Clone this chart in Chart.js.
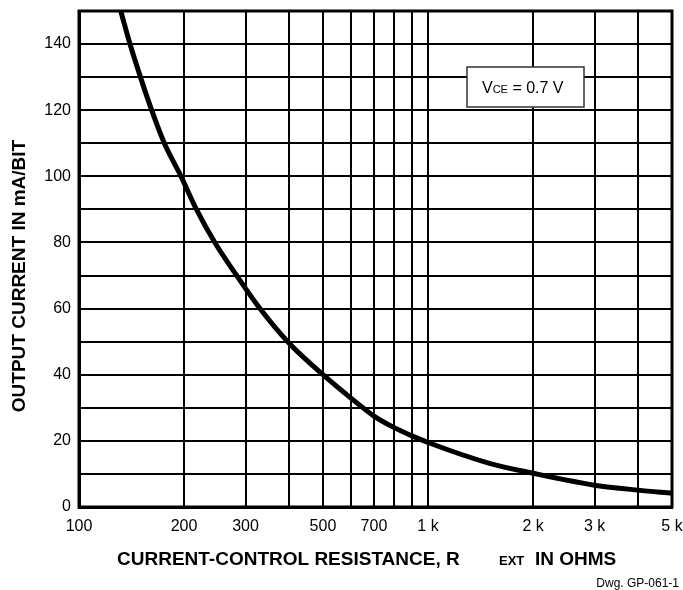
<!DOCTYPE html>
<html>
<head>
<meta charset="utf-8">
<script src="https://cdn.jsdelivr.net/npm/chart.js@4"></script>
<style>
  html, body { margin: 0; padding: 0; background: #fff; }
  canvas { display: block; }
</style>
</head>
<body>
<canvas id="c" width="683" height="590"></canvas>
<script>
// ---- data ----
const resistance = [131.7, 140, 150, 161.5, 175.6, 196, 217, 245, 283, 330, 400, 500, 600, 700, 800, 900, 1000, 1500, 2000, 3000, 4000, 5000];
const current    = [150, 140, 130, 120, 110, 100, 90, 80, 70, 60, 49.5, 40, 33, 27.5, 24, 21.5, 19.5, 13.2, 10.2, 6.6, 5.1, 4.2];
const xGridValues = [100, 200, 300, 400, 500, 600, 700, 800, 900, 1000, 2000, 3000, 4000, 5000];
const xTickLabels = {100: '100', 200: '200', 300: '300', 500: '500', 700: '700', 1000: '1 k', 2000: '2 k', 3000: '3 k', 5000: '5 k'};
const yGridValues = [0, 10, 20, 30, 40, 50, 60, 70, 80, 90, 100, 110, 120, 130, 140, 150];
const yTickLabels = [0, 20, 40, 60, 80, 100, 120, 140];

const FONT = "'Liberation Sans', Arial, Helvetica, sans-serif";

const decor = {
  id: 'decor',
  afterDraw(chart) {
    const ctx = chart.ctx;
    const a = chart.chartArea;
    ctx.save();
    // frame
    ctx.strokeStyle = '#000';
    ctx.lineWidth = 3;
    ctx.strokeRect(a.left, a.top, a.right - a.left, a.bottom - a.top);
    // annotation box
    const bx = 467, by = 67, bw = 117, bh = 40;
    ctx.fillStyle = '#fff';
    ctx.fillRect(bx, by, bw, bh);
    ctx.strokeStyle = '#333';
    ctx.lineWidth = 1.5;
    ctx.strokeRect(bx, by, bw, bh);
    ctx.fillStyle = '#000';
    ctx.textBaseline = 'alphabetic';
    ctx.textAlign = 'left';
    let tx = 482;
    const ty = 93;
    ctx.font = '16px ' + FONT;
    ctx.fillText('V', tx, ty); tx += ctx.measureText('V').width;
    ctx.font = '11px ' + FONT;
    ctx.fillText('CE', tx, ty); tx += ctx.measureText('CE').width;
    ctx.font = '16px ' + FONT;
    ctx.fillText(' = 0.7 V', tx, ty);

    // x title
    const xy = 565;
    ctx.font = 'bold 19px ' + FONT;
    ctx.fillText('CURRENT-CONTROL RESISTANCE, R', 117, xy);
    ctx.font = 'bold 13px ' + FONT;
    ctx.fillText('EXT', 499, xy);
    ctx.font = 'bold 19px ' + FONT;
    ctx.fillText('IN OHMS', 535, xy);

    // drawing number
    ctx.font = '12px ' + FONT;
    ctx.textAlign = 'right';
    ctx.fillText('Dwg. GP-061-1', 679, 587);

    // y title
    ctx.translate(20, 276);
    ctx.rotate(-Math.PI / 2);
    ctx.textAlign = 'center';
    ctx.textBaseline = 'middle';
    ctx.font = 'bold 19px ' + FONT;
    ctx.fillText('OUTPUT CURRENT IN mA/BIT', 0, 0);
    ctx.restore();
  }
};

new Chart(document.getElementById('c'), {
  type: 'line',
  data: {
    datasets: [{
      data: resistance.map((r, i) => ({x: r, y: current[i]})),
      borderColor: '#000',
      borderWidth: 5,
      pointRadius: 0,
      cubicInterpolationMode: 'monotone',
      fill: false
    }]
  },
  options: {
    responsive: false,
    animation: false,
    events: [],
    layout: { padding: { left: 0, right: 11, top: 11, bottom: 0 }, autoPadding: false },
    plugins: { legend: { display: false }, tooltip: { enabled: false }, title: { display: false } },
    scales: {
      x: {
        type: 'logarithmic',
        min: 100, max: 5000,
        afterBuildTicks: s => { s.ticks = xGridValues.map(v => ({ value: v })); },
        afterFit: s => { s.height = 83; s.paddingLeft = 0; s.paddingRight = 0; },
        ticks: {
          autoSkip: false, maxRotation: 0, minRotation: 0,
          color: '#000', padding: 10,
          font: { family: FONT, size: 16 },
          callback: v => (xTickLabels[v] !== undefined ? xTickLabels[v] : '')
        },
        grid: { color: '#000', lineWidth: 2, drawTicks: false },
        border: { display: true, color: '#000', width: 3 }
      },
      y: {
        type: 'linear',
        min: 0, max: 150,
        afterBuildTicks: s => { s.ticks = yGridValues.map(v => ({ value: v })); },
        afterFit: s => { s.width = 79; s.paddingTop = 0; s.paddingBottom = 0; },
        ticks: {
          autoSkip: false, color: '#000', padding: 8,
          font: { family: FONT, size: 16 },
          callback: v => (yTickLabels.includes(v) ? String(v) : '')
        },
        grid: { color: '#000', lineWidth: 2, drawTicks: false },
        border: { display: true, color: '#000', width: 3 }
      }
    }
  },
  plugins: [decor]
});
</script>
</body>
</html>
